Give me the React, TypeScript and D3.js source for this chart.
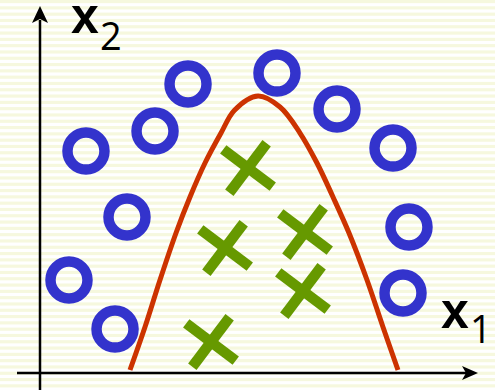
import React from "react";
import * as d3 from "d3";

const W = 495;
const H = 390;

// Class "o" points (x1, x2)
const circlesX = [3.364, 5.386, 6.75, 2.614, 1.045, 8.023, 1.977, 8.386, 0.659, 8.25, 1.705];
const circlesY = [7.918, 8.219, 7.233, 6.63, 6.082, 6.164, 4.274, 4.0, 2.548, 2.192, 1.205];

// Class "x" points
const crossesX = [4.727, 4.205, 6.023, 5.977, 3.886];
const crossesY = [5.616, 3.425, 3.863, 2.247, 0.849];

// Decision boundary
const boundaryX = [2.045, 2.386, 2.727, 3.091, 3.409, 3.75, 4.114, 4.42, 4.955, 5.455, 5.909, 6.295, 6.659, 7.023, 7.432, 7.795, 8.136];
const boundaryY = [0.082, 1.26, 2.548, 3.836, 4.822, 5.753, 6.575, 7.2, 7.589, 7.288, 6.575, 5.753, 4.822, 3.836, 2.548, 1.26, 0.082];

const BLUE = "#3333cc";
const GREEN = "#669900";
const RED = "#cc3300";

export default function App() {
  const x = d3.scaleLinear().domain([0, 10]).range([40, 480]);
  const y = d3.scaleLinear().domain([0, 10]).range([373, 8]);

  const stripes = d3.range(0, H, 6.3);
  const pts: [number, number][] = boundaryX.map((v, i) => [v, boundaryY[i]]);
  const line = d3
    .line<[number, number]>()
    .x((d) => x(d[0]))
    .y((d) => y(d[1]))
    .curve(d3.curveCatmullRom.alpha(0.5));

  const armLen = 31;
  const a1 = (37 * Math.PI) / 180;
  const a2 = (-53 * Math.PI) / 180;

  return (
    <svg
      width={W}
      height={H}
      style={{ position: "absolute", left: 0, top: 0 }}
      xmlns="http://www.w3.org/2000/svg"
    >
      <rect x={0} y={0} width={W} height={H} fill="#ffffff" />
      {stripes.map((s, i) => (
        <rect key={i} x={0} y={s} width={W} height={3.15} fill="#f6f8de" />
      ))}

      {/* axes */}
      <line x1={x(0)} y1={390} x2={x(0)} y2={20} stroke="#000" strokeWidth={2.5} />
      <path d={`M${x(0)},6 L${x(0) - 8},23 L${x(0)},19 L${x(0) + 8},23 Z`} fill="#000" />
      <line x1={17} y1={y(0)} x2={466} y2={y(0)} stroke="#000" strokeWidth={2.5} />
      <path d={`M478,${y(0)} L462,${y(0) - 7} L466,${y(0)} L462,${y(0) + 7} Z`} fill="#000" />

      {/* decision boundary */}
      <path d={line(pts) || ""} fill="none" stroke={RED} strokeWidth={5} />

      {/* circles */}
      {circlesX.map((cx, i) => (
        <circle key={i} cx={x(cx)} cy={y(circlesY[i])} r={18.5} fill="none" stroke={BLUE} strokeWidth={10.5} />
      ))}

      {/* crosses */}
      {crossesX.map((cx, i) => {
        const px = x(cx);
        const py = y(crossesY[i]);
        return (
          <g key={i} stroke={GREEN} strokeWidth={10.5} strokeLinecap="butt">
            <line
              x1={px - armLen * Math.cos(a1)}
              y1={py - armLen * Math.sin(a1)}
              x2={px + armLen * Math.cos(a1)}
              y2={py + armLen * Math.sin(a1)}
            />
            <line
              x1={px - armLen * Math.cos(a2)}
              y1={py - armLen * Math.sin(a2)}
              x2={px + armLen * Math.cos(a2)}
              y2={py + armLen * Math.sin(a2)}
            />
          </g>
        );
      })}

      {/* labels */}
      <text x={71} y={33} fontFamily="'Liberation Sans', Arial, sans-serif" fontWeight="bold" fontSize={50} fill="#000">
        x
      </text>
      <text x={100} y={50} fontFamily="'Open Sans', sans-serif" fontSize={38} fill="#000">
        2
      </text>
      <text x={441} y={328} fontFamily="'Liberation Sans', Arial, sans-serif" fontWeight="bold" fontSize={50} fill="#000">
        x
      </text>
      <text x={470} y={343} fontFamily="'Open Sans', sans-serif" fontSize={38} fill="#000">
        1
      </text>
    </svg>
  );
}
